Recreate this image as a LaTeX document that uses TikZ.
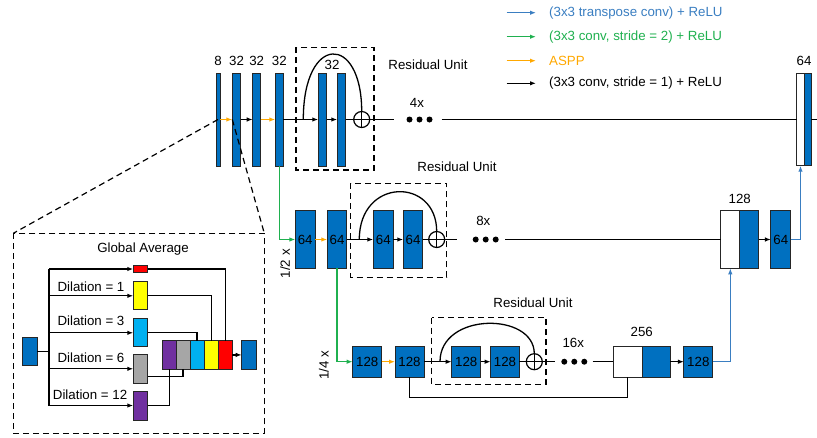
\documentclass[tikz,border=0pt]{standalone}
\usepackage{fontspec}
\setmainfont{Liberation Sans}
\usetikzlibrary{arrows.meta}
\definecolor{bblue}{HTML}{0070C0}
\definecolor{lblue}{HTML}{3A7EC1}
\definecolor{lgreen}{HTML}{1FB04F}
\definecolor{lorange}{HTML}{FFA800}
\definecolor{cred}{HTML}{FF0000}
\definecolor{cyel}{HTML}{FFFF00}
\definecolor{ccyan}{HTML}{00B0F0}
\definecolor{cgray}{HTML}{A6A6A6}
\definecolor{cpurp}{HTML}{7030A0}
\begin{document}
\begin{tikzpicture}[x=1pt,y=-1pt,font=\fontsize{13.3}{15}\selectfont,
  blk/.style={draw=black!85,line width=1pt,fill=bblue,inner sep=0pt,outer sep=0pt},
  wblk/.style={blk,fill=white},
  sz/.style 2 args={minimum width=#1pt,minimum height=#2pt},
  ln/.style={line width=1.3pt},
  arr/.style={ln,-{Latex[length=6pt,width=4.5pt]}},
  dsh/.style={line width=1.2pt,dash pattern=on 6pt off 4pt},
  plus/.style={circle,draw,line width=1.2pt,minimum size=16pt,inner sep=0pt,outer sep=0pt},
  lab/.style={inner sep=0pt}]
\useasboundingbox (0,0) rectangle (817,437);

% ---------- legend ----------
\coordinate (lg1a) at (506.7,12.7); \coordinate (lg1b) at (536,12.7);
\coordinate (lg2a) at (506.7,36.7); \coordinate (lg2b) at (536,36.7);
\coordinate (lg3a) at (506.7,60.7); \coordinate (lg3b) at (536,60.7);
\coordinate (lg4a) at (506.7,83.3); \coordinate (lg4b) at (536,83.3);
\draw[arr,lblue] (lg1a) -- (lg1b);
\draw[arr,lgreen] (lg2a) -- (lg2b);
\draw[arr,lorange] (lg3a) -- (lg3b);
\draw[arr] (lg4a) -- (lg4b);
\node[lab,anchor=west,text=lblue] (lt1) at (549,12.7) {(3x3 transpose conv) + ReLU};
\node[lab,anchor=west,text=lgreen] (lt2) at (549,36.7) {(3x3 conv, stride = 2) + ReLU};
\node[lab,anchor=west,text=lorange] (lt3) at (549,60.7) {ASPP};
\node[lab,anchor=west] (lt4) at (549,83.3) {(3x3 conv, stride = 1) + ReLU};

% ---------- top row ----------
\node[blk,sz={4}{93}] (b8) at (218,119.5) {};
\node[blk,sz={8.4}{93}] (b32a) at (236.5,119.5) {};
\node[blk,sz={8}{93}] (b32b) at (256.7,119.5) {};
\node[blk,sz={8}{93}] (b32c) at (279.3,119.5) {};
\node[blk,sz={8.4}{93}] (r1a) at (322.5,119.5) {};
\node[blk,sz={8.4}{93}] (r1b) at (341.5,119.5) {};
\node[plus] (c1) at (361.7,119.5) {};
\draw[line width=1.2pt] (c1.north) -- (c1.south) (c1.west) -- (c1.east);
\node[wblk,sz={7.6}{92.4}] (tw) at (800.5,119.5) {};
\node[blk,sz={6.7}{92.4}] (tb) at (807.7,119.5) {};

\node[lab] (t8) at (218,61) {8};
\node[lab] (t32a) at (236.5,61) {32};
\node[lab] (t32b) at (256.7,61) {32};
\node[lab] (t32c) at (279.3,61) {32};
\node[lab] (t32r) at (332,65) {32};
\node[lab] (t64) at (804,61) {64};
\node[lab] (ru1) at (428,65) {Residual Unit};
\node[lab] (n4) at (417,103) {4x};

\draw[dsh] (296,47.3) rectangle (374,170);

\draw[arr,lorange] (b8) -- (b32a);
\draw[arr] (b32a) -- (b32b);
\draw[arr,lorange] (b32b) -- (b32c);
\draw[arr] (b32c) -- (r1a);
\draw[arr] (r1a) -- (r1b);
\draw[ln] (r1b) -- (c1);
\coordinate (a1) at (303.3,119.5);
\draw[ln] (a1) .. controls (303.3,33.5) and (361.7,33.5) .. (c1.north);
\coordinate (e1) at (394,119.5);
\draw[ln] (c1) -- (e1);
\fill (409.5,119.5) circle (3pt) (419.5,119.5) circle (3pt) (429.5,119.5) circle (3pt);
\coordinate (s1) at (441.7,119.5);
\draw[ln] (s1) -- (tw);
\coordinate (oe) at (817,119.5);
\draw[ln] (tb) -- (oe);

% ---------- middle row ----------
\node[blk,sz={19.7}{57.6}] (m64a) at (305.2,239.5) {64};
\node[blk,sz={19.4}{57.6}] (m64b) at (337,239.5) {64};
\node[blk,sz={20}{57.6}] (r2a) at (383.3,239.5) {64};
\node[blk,sz={19.4}{57.6}] (r2b) at (413,239.5) {64};
\node[plus] (c2) at (436.7,239.5) {};
\draw[line width=1.2pt] (c2.north) -- (c2.south) (c2.west) -- (c2.east);
\node[wblk,sz={19.3}{57.6}] (mw) at (730.3,239.5) {};
\node[blk,sz={18.7}{57.6}] (mb) at (749.3,239.5) {};
\node[blk,sz={19.7}{57.6}] (mo) at (780.8,239.5) {64};

\node[lab] (t128) at (739.7,199.3) {128};
\node[lab] (ru2) at (457,166.7) {Residual Unit};
\node[lab] (n8) at (483.3,221) {8x};
\node[lab,rotate=90] (half) at (285,263.7) {1/2 x};

\draw[dsh] (350.7,183.3) rectangle (446.7,277.3);

\draw[arr,lgreen] (b32c.south) |- (m64a);
\draw[arr,lorange] (m64a) -- (m64b);
\draw[arr] (m64b) -- (r2a);
\draw[arr] (r2a) -- (r2b);
\draw[ln] (r2b) -- (c2);
\coordinate (a2) at (359.3,239.5);
\draw[ln] (a2) .. controls (359.3,177.1) and (436.7,177.1) .. (c2.north);
\coordinate (e2) at (456.7,239.5);
\draw[ln] (c2) -- (e2);
\fill (475.7,239.5) circle (3pt) (485.7,239.5) circle (3pt) (495.7,239.5) circle (3pt);
\coordinate (s2) at (505,239.5);
\draw[ln] (s2) -- (mw);
\draw[arr] (mb) -- (mo);
\draw[arr,lblue] (mo) -| (tw);

% ---------- bottom row ----------
\node[blk,sz={29}{30.7}] (b128a) at (367.2,361.7) {128};
\node[blk,sz={29}{30.7}] (b128b) at (409.5,361.7) {128};
\node[blk,sz={29}{30.7}] (r3a) at (466.2,361.7) {128};
\node[blk,sz={28.6}{30.7}] (r3b) at (505,361.7) {128};
\node[plus] (c3) at (534.3,361.7) {};
\draw[line width=1.2pt] (c3.north) -- (c3.south) (c3.west) -- (c3.east);
\node[wblk,sz={29}{30.7}] (bw) at (627.8,361.7) {};
\node[blk,sz={27.7}{30.7}] (bb) at (656.2,361.7) {};
\node[blk,sz={28.7}{30.7}] (bo) at (698.3,361.7) {128};

\node[lab] (t256) at (641.7,331.7) {256};
\node[lab] (ru3) at (533,302.7) {Residual Unit};
\node[lab] (n16) at (573.3,343.3) {16x};
\node[lab,rotate=90] (quarter) at (323.8,365.5) {1/4 x};

\draw[dsh] (431.7,317.7) rectangle (546,384.3);

\draw[arr,lgreen] (m64b.south) |- (b128a);
\draw[arr,lorange] (b128a) -- (b128b);
\draw[arr] (b128b) -- (r3a);
\draw[arr] (r3a) -- (r3b);
\draw[ln] (r3b) -- (c3);
\coordinate (a3) at (440,361.7);
\draw[ln] (a3) .. controls (440,311.9) and (534.3,311.9) .. (c3.north);
\coordinate (e3) at (555,361.7);
\draw[ln] (c3) -- (e3);
\fill (564.3,361.7) circle (3pt) (574.3,361.7) circle (3pt) (584.3,361.7) circle (3pt);
\coordinate (s3) at (592.7,361.7);
\draw[ln] (s3) -- (bw);
\coordinate (k3) at (409.5,397.3);
\draw[ln] (b128b.south) -- (k3) -| (bw.south);
\draw[arr] (bb) -- (bo);
\draw[arr,lblue] (bo) -| (mw);

% ---------- ASPP detail ----------
\draw[dsh] (13.3,233.3) rectangle (264.3,433.3);
\coordinate (pl) at (13.3,233.3);
\coordinate (pr) at (264.3,233.3);
\draw[dsh] (b8.center) -- (pl);
\draw[dsh] (b32a.west) -- (pr);

\node[lab] (ga) at (143,249.3) {Global Average};
\node[lab,anchor=west] (dl1) at (57.3,286.7) {Dilation = 1};
\node[lab,anchor=west] (dl3) at (57.3,321) {Dilation = 3};
\node[lab,anchor=west] (dl6) at (57.3,357.7) {Dilation = 6};
\node[lab,anchor=west] (dl12) at (52.7,395) {Dilation = 12};

\node[blk,sz={15}{28.4}] (ain) at (29.8,351.5) {};
\node[blk,fill=cred,sz={14.4}{6.6}] (ared) at (140.5,269) {};
\node[blk,fill=cyel,sz={14.4}{28.3}] (ayel) at (140.5,295.8) {};
\node[blk,fill=ccyan,sz={14.4}{27.7}] (acyan) at (140.5,332.8) {};
\node[blk,fill=cgray,sz={14.4}{29}] (agray) at (140.5,368.8) {};
\node[blk,fill=cpurp,sz={14.4}{29}] (apurp) at (140.5,405.5) {};

\node[blk,fill=cpurp,sz={13.7}{28.3}] (kp) at (169.15,354.9) {};
\node[blk,fill=cgray,sz={14}{28.3}] (kg) at (183,354.9) {};
\node[blk,fill=ccyan,sz={14}{28.3}] (kc) at (197,354.9) {};
\node[blk,fill=cyel,sz={14.3}{28.3}] (ky) at (211.15,354.9) {};
\node[blk,fill=cred,sz={14}{28.3}] (kr) at (225.3,354.9) {};
\node[blk,sz={15}{28.3}] (aout) at (249.2,354.9) {};

\coordinate (bj) at (49,351.5);
\coordinate (btop) at (49,269);
\coordinate (bt1) at (49,295.8);
\coordinate (bt3) at (49,332.8);
\coordinate (bt6) at (49,368.8);
\coordinate (bbot) at (49,405.5);
\draw[ln] (ain) -- (bj);
\draw[ln] (btop) -- (bbot);
\draw[arr] (btop) -- (ared);
\draw[arr] (bt1) -- (ayel);
\draw[arr] (bt3) -- (acyan);
\draw[arr] (bt6) -- (agray);
\draw[arr] (bbot) -- (apurp);

\draw[ln] (ared) -| (kr);
\draw[ln] (ayel) -| (ky);
\draw[ln] (acyan) -| (kc);
\draw[ln] ([yshift=-7.9pt]agray.east) -| (kg);
\draw[ln] (apurp) -| (kp);
\draw[arr] (kr) -- (aout);
\end{tikzpicture}
\end{document}
